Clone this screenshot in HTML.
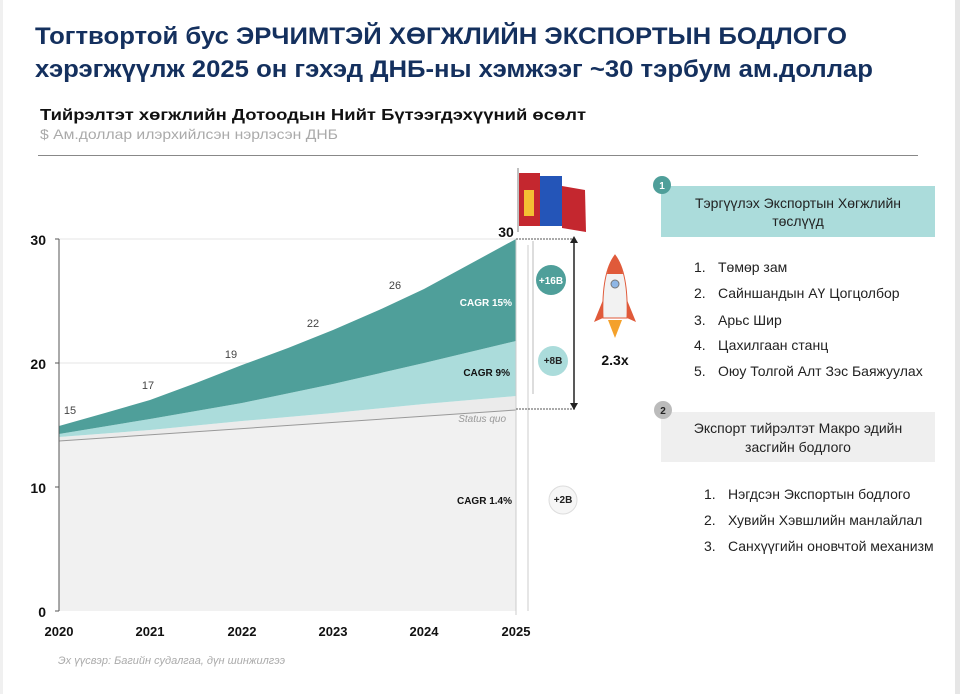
<!DOCTYPE html>
<html><head><meta charset="utf-8"><style>
html,body{margin:0;padding:0;background:#fff;}
svg{display:block;font-family:"Liberation Sans",sans-serif;}
</style></head><body>
<svg width="960" height="694" viewBox="0 0 960 694" xmlns="http://www.w3.org/2000/svg">
<rect x="0" y="0" width="960" height="694" fill="#fff"/>
<rect x="955" y="0" width="5" height="694" fill="#e6e6e6"/>
<rect x="0" y="0" width="3" height="694" fill="#f0f0f0"/>
<text x="35" y="44" font-size="24" font-weight="bold" fill="#14305e" textLength="812" lengthAdjust="spacingAndGlyphs">Тогтвортой бус ЭРЧИМТЭЙ ХӨГЖЛИЙН ЭКСПОРТЫН БОДЛОГО</text>
<text x="35" y="77" font-size="24" font-weight="bold" fill="#14305e" textLength="838" lengthAdjust="spacingAndGlyphs">хэрэгжүүлж 2025 он гэхэд ДНБ-ны хэмжээг ~30 тэрбум ам.доллар</text>
<text x="40" y="120" font-size="16" font-weight="bold" fill="#111" textLength="546" lengthAdjust="spacingAndGlyphs">Тийрэлтэт хөгжлийн Дотоодын Нийт Бүтээгдэхүүний өсөлт</text>
<text x="40" y="139" font-size="14" fill="#aaa" textLength="298" lengthAdjust="spacingAndGlyphs">$ Ам.доллар илэрхийлсэн нэрлэсэн ДНБ</text>
<line x1="38" y1="155.5" x2="918" y2="155.5" stroke="#888" stroke-width="1"/>

<line x1="59" y1="239" x2="516" y2="239" stroke="#e4e4e4"/>
<line x1="59" y1="363" x2="516" y2="363" stroke="#e4e4e4"/>
<path d="M59,441 L516,410 L516,611 L59,611 Z" fill="#f1f1f1"/>
<path d="M59,437 L150,430 L242,421 L333,413 L424,404 L516,396 L516,410 L59,441 Z" fill="#ebebeb"/>
<path d="M59,434 L150,419 L242,403 L333,384 L424,363 L516,341 L516,396 L424,404 L333,413 L242,421 L150,430 L59,437 Z" fill="#abdcdb"/>
<path d="M59,426 L105,413 L150,400 L196,383 L242,365 L288,348 L333,330 L379,310 L424,289 L470,264 L516,239 L516,341 L424,363 L333,384 L242,403 L150,419 L59,434 Z" fill="#4f9f9a"/>
<path d="M59,441 L516,410" stroke="#999" stroke-width="1"/>
<line x1="59" y1="239" x2="59" y2="611" stroke="#555"/>
<line x1="55" y1="239" x2="59" y2="239" stroke="#555"/>
<line x1="55" y1="363" x2="59" y2="363" stroke="#555"/>
<line x1="55" y1="487" x2="59" y2="487" stroke="#555"/>
<line x1="55" y1="611" x2="59" y2="611" stroke="#555"/>
<line x1="516" y1="239" x2="516" y2="615" stroke="#ccc"/>
<line x1="528" y1="245" x2="528" y2="611" stroke="#ccc"/>
<g font-size="14" font-weight="bold" fill="#111" text-anchor="end">
<text x="46" y="245">30</text><text x="46" y="369">20</text><text x="46" y="493">10</text><text x="46" y="617">0</text>
</g>
<g font-size="13" font-weight="bold" fill="#111" text-anchor="middle">
<text x="59" y="636">2020</text><text x="150" y="636">2021</text><text x="242" y="636">2022</text><text x="333" y="636">2023</text><text x="424" y="636">2024</text><text x="516" y="636">2025</text>
</g>
<g font-size="11" fill="#444" text-anchor="middle">
<text x="70" y="414">15</text><text x="148" y="389">17</text><text x="231" y="358">19</text><text x="313" y="327">22</text><text x="395" y="289">26</text>
</g>
<text x="506" y="237" font-size="14" font-weight="bold" fill="#111" text-anchor="middle">30</text>
<g font-size="10" font-weight="bold" text-anchor="end">
<text x="512" y="306" fill="#fff">CAGR 15%</text>
<text x="510" y="376" fill="#111">CAGR 9%</text>
<text x="512" y="504" fill="#111">CAGR 1.4%</text>
</g>
<text x="506" y="422" font-size="10" font-style="italic" fill="#999" text-anchor="end">Status quo</text>
<line x1="516" y1="239" x2="575" y2="239" stroke="#555" stroke-dasharray="2,1"/>
<line x1="516" y1="409" x2="575" y2="409" stroke="#555" stroke-dasharray="2,1"/>
<line x1="574" y1="243" x2="574" y2="405" stroke="#222" stroke-width="1.5"/>
<polygon points="570,243 578,243 574,236" fill="#222"/>
<polygon points="570,403 578,403 574,410" fill="#222"/>
<line x1="533" y1="241" x2="533" y2="394" stroke="#bbb"/>
<circle cx="551" cy="280" r="15" fill="#4f9f9a"/><text x="551" y="284" font-size="10" font-weight="bold" fill="#fff" text-anchor="middle">+16B</text>
<circle cx="553" cy="361" r="15" fill="#abdcdb"/><text x="553" y="364" font-size="10" font-weight="bold" fill="#222" text-anchor="middle">+8B</text>
<circle cx="563" cy="500" r="14" fill="#f6f6f6" stroke="#ddd"/><text x="563" y="503" font-size="10" font-weight="bold" fill="#222" text-anchor="middle">+2B</text>
<line x1="518" y1="168" x2="518" y2="232" stroke="#aaa" stroke-width="1.5"/>
<rect x="519" y="173" width="21" height="53" fill="#c4272f"/>
<rect x="540" y="176" width="22" height="50" fill="#2455b8"/>
<path d="M562,186 L585,190 L586,232 L562,228 Z" fill="#c4272f"/>
<rect x="524" y="190" width="10" height="26" fill="#f4c033"/>
<path d="M615,255 C605,268 602,290 603,318 L627,318 C628,290 625,268 615,255 Z" fill="#f2f2f2" stroke="#e05a3a" stroke-width="1"/>
<path d="M615,255 C610,262 608,268 607,274 L623,274 C622,268 620,262 615,255 Z" fill="#e05a3a"/>
<circle cx="615" cy="284" r="4" fill="#8fb7e6" stroke="#777"/>
<path d="M603,300 L594,322 L603,318 Z" fill="#e05a3a"/>
<path d="M627,300 L636,322 L627,318 Z" fill="#e05a3a"/>
<path d="M608,320 L622,320 L615,338 Z" fill="#f4a12b"/>
<text x="615" y="365" font-size="14" font-weight="bold" fill="#111" text-anchor="middle">2.3x</text>
<rect x="661" y="186" width="274" height="51" fill="#abdcdb"/>
<circle cx="662" cy="185" r="9" fill="#4f9f9a"/><text x="662" y="189" font-size="10" font-weight="bold" fill="#fff" text-anchor="middle">1</text>
<text x="798" y="208" font-size="14" fill="#222" text-anchor="middle">Тэргүүлэх Экспортын Хөгжлийн</text>
<text x="798" y="226" font-size="14" fill="#222" text-anchor="middle">төслүүд</text>
<g font-size="14" fill="#222">
<text x="694" y="272">1.</text><text x="718" y="272">Төмөр зам</text>
<text x="694" y="298">2.</text><text x="718" y="298">Сайншандын АҮ Цогцолбор</text>
<text x="694" y="325">3.</text><text x="718" y="325">Арьс Шир</text>
<text x="694" y="350">4.</text><text x="718" y="350">Цахилгаан станц</text>
<text x="694" y="376">5.</text><text x="718" y="376">Оюу Толгой Алт Зэс Баяжуулах</text>
</g>
<rect x="661" y="412" width="274" height="50" fill="#efefef"/>
<circle cx="663" cy="410" r="9" fill="#bbb"/><text x="663" y="414" font-size="10" font-weight="bold" fill="#222" text-anchor="middle">2</text>
<text x="798" y="433" font-size="14" fill="#222" text-anchor="middle">Экспорт тийрэлтэт Макро эдийн</text>
<text x="798" y="452" font-size="14" fill="#222" text-anchor="middle">засгийн бодлого</text>
<g font-size="14" fill="#222">
<text x="704" y="499">1.</text><text x="728" y="499">Нэгдсэн Экспортын бодлого</text>
<text x="704" y="525">2.</text><text x="728" y="525">Хувийн Хэвшлийн манлайлал</text>
<text x="704" y="551">3.</text><text x="728" y="551">Санхүүгийн оновчтой механизм</text>
</g>
<text x="58" y="664" font-size="11" font-style="italic" fill="#aaa">Эх үүсвэр: Багийн судалгаа, дүн шинжилгээ</text>
</svg>
</body></html>
